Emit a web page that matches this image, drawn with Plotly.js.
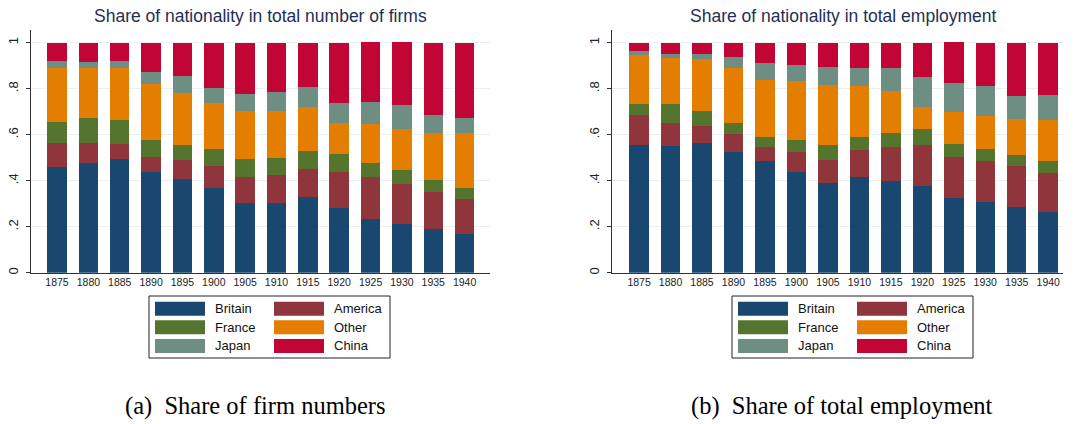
<!DOCTYPE html>
<html>
<head>
<meta charset="utf-8">
<script src="https://cdn.plot.ly/plotly-3.0.1.min.js"></script>
<style>html,body{margin:0;padding:0;background:#fff;}#chart{width:1078px;height:424px;}</style>
</head>
<body>
<div id="chart"></div>
<script>
// ---- data ----
const years = ['1875','1880','1885','1890','1895','1900','1905','1910','1915','1920','1925','1930','1935','1940'];
const seriesNames = ['Britain','America','France','Other','Japan','China'];

// Share of nationality in total number of firms
const britainFirms = [0.459,0.477,0.494,0.438,0.407,0.368,0.303,0.303,0.329,0.281,0.233,0.212,0.188,0.168];
const americaFirms = [0.105,0.087,0.065,0.065,0.083,0.096,0.113,0.122,0.122,0.157,0.183,0.174,0.163,0.152];
const franceFirms  = [0.093,0.107,0.103,0.074,0.065,0.074,0.078,0.074,0.078,0.078,0.061,0.060,0.052,0.048];
const otherFirms   = [0.234,0.220,0.229,0.242,0.226,0.200,0.209,0.204,0.191,0.135,0.171,0.179,0.204,0.239];
const japanFirms   = [0.029,0.025,0.029,0.053,0.074,0.065,0.074,0.083,0.087,0.087,0.094,0.104,0.079,0.066];
const chinaFirms   = [0.080,0.084,0.080,0.128,0.145,0.197,0.223,0.214,0.193,0.262,0.261,0.274,0.314,0.327];

// Share of nationality in total employment
const britainEmp = [0.555,0.551,0.564,0.525,0.486,0.439,0.390,0.416,0.399,0.377,0.325,0.307,0.286,0.264];
const americaEmp = [0.131,0.100,0.074,0.078,0.060,0.086,0.100,0.117,0.147,0.178,0.178,0.179,0.178,0.169];
const franceEmp  = [0.047,0.082,0.065,0.048,0.044,0.052,0.065,0.057,0.061,0.070,0.056,0.052,0.048,0.053];
const otherEmp   = [0.213,0.200,0.226,0.240,0.248,0.256,0.261,0.222,0.183,0.095,0.140,0.143,0.156,0.179];
const japanEmp   = [0.018,0.018,0.022,0.047,0.074,0.070,0.078,0.078,0.100,0.131,0.126,0.131,0.100,0.107];
const chinaEmp   = [0.036,0.049,0.049,0.062,0.088,0.097,0.106,0.110,0.110,0.149,0.178,0.188,0.232,0.228];

const yTickVals = [0,0.2,0.4,0.6,0.8,1];
const yTickText = ['0','.2','.4','.6','.8','1'];

const titleFirms = 'Share of nationality in total number of firms';
const titleEmp = 'Share of nationality in total employment';
const captionFirms = '(a)\u00a0\u00a0Share of firm numbers';
const captionEmp = '(b)\u00a0\u00a0Share of total employment';

// ---- styling ----
const colors = ['#1a476f','#90353b','#55752f','#e37e00','#6e8e84','#c10534'];
const W = 1078, H = 424;
const px = x => x / W;
const py = y => 1 - y / H;
const sans = 'Liberation Sans, Arial, sans-serif';
const serif = 'Liberation Serif, Times New Roman, serif';

const firmsSeries = [britainFirms, americaFirms, franceFirms, otherFirms, japanFirms, chinaFirms];
const empSeries = [britainEmp, americaEmp, franceEmp, otherEmp, japanEmp, chinaEmp];

const traces = [];
seriesNames.forEach((name, i) => {
  traces.push({type:'bar', x: years, y: firmsSeries[i], name: name, xaxis:'x', yaxis:'y',
    marker:{color: colors[i], line:{width:0}}, showlegend:false, hoverinfo:'x+y+name'});
});
seriesNames.forEach((name, i) => {
  traces.push({type:'bar', x: years, y: empSeries[i], name: name, xaxis:'x2', yaxis:'y2',
    marker:{color: colors[i], line:{width:0}}, showlegend:false, hoverinfo:'x+y+name'});
});

const yDomain = [py(272.7), py(30)];
const yaxisBase = {
  range:[0,1.055], domain: yDomain, tickvals: yTickVals, ticktext: yTickText,
  tickangle:-90, ticks:'outside', ticklen:4, tickcolor:'#333', tickwidth:1, ticklabelstandoff:3,
  showline:true, linecolor:'#333', linewidth:1, showgrid:true, gridcolor:'#e9f0f2', gridwidth:1,
  zeroline:false, tickfont:{family:sans, size:13, color:'#222'}, fixedrange:true
};
const xaxisBase = {
  type:'category', showline:true, linecolor:'#333', linewidth:1, ticks:'', showgrid:false,
  zeroline:false, tickfont:{family:sans, size:10.5, color:'#222'}, fixedrange:true
};

const annotations = [
  {text:titleFirms, x:px(260), y:py(15.5), xref:'paper', yref:'paper', xanchor:'center', yanchor:'middle',
   showarrow:false, font:{family:sans, size:17.5, color:'#1f2f55'}},
  {text:titleEmp, x:px(843), y:py(15.5), xref:'paper', yref:'paper', xanchor:'center', yanchor:'middle',
   showarrow:false, font:{family:sans, size:17.5, color:'#1f2f55'}},
  {text:captionFirms, x:px(255.5), y:py(406), xref:'paper', yref:'paper', xanchor:'center', yanchor:'middle',
   showarrow:false, font:{family:serif, size:24.5, color:'#000'}},
  {text:captionEmp, x:px(841.5), y:py(406), xref:'paper', yref:'paper', xanchor:'center', yanchor:'middle',
   showarrow:false, font:{family:serif, size:24.5, color:'#000'}}
];
const shapes = [];

// manual legends (2 columns x 3 rows) built from series names / colours
function addLegend(boxLeft) {
  const boxTop = 296, boxBottom = 358, boxW = 241;
  shapes.push({type:'rect', xref:'paper', yref:'paper', x0:px(boxLeft), x1:px(boxLeft+boxW),
    y0:py(boxBottom), y1:py(boxTop), line:{color:'#222', width:1}, fillcolor:'rgba(0,0,0,0)'});
  seriesNames.forEach((name, i) => {
    const col = i % 2, row = Math.floor(i / 2);
    const sx = boxLeft + 6 + col * 119;
    const cy = 308.7 + row * 18.6;
    shapes.push({type:'rect', xref:'paper', yref:'paper', x0:px(sx), x1:px(sx+50),
      y0:py(cy+7), y1:py(cy-7), line:{width:0}, fillcolor: colors[i]});
    annotations.push({text:name, x:px(sx+58), y:py(cy), xref:'paper', yref:'paper',
      xanchor:'left', yanchor:'middle', showarrow:false, font:{family:sans, size:13, color:'#111'}});
  });
}
addLegend(149);
addLegend(732);

const layout = {
  width:W, height:H, margin:{l:0, r:0, t:0, b:0}, paper_bgcolor:'#fff', plot_bgcolor:'#fff',
  barmode:'stack', bargap:0.38, showlegend:false,
  xaxis: Object.assign({}, xaxisBase, {domain:[px(31), px(490)], range:[-0.83, 13.81], anchor:'y'}),
  yaxis: Object.assign({}, yaxisBase, {anchor:'x'}),
  xaxis2: Object.assign({}, xaxisBase, {domain:[px(612), px(1063)], range:[-0.86, 13.47], anchor:'y2'}),
  yaxis2: Object.assign({}, yaxisBase, {anchor:'x2'}),
  annotations: annotations, shapes: shapes
};

Plotly.newPlot('chart', traces, layout, {displayModeBar:false, staticPlot:true});
</script>
</body>
</html>
